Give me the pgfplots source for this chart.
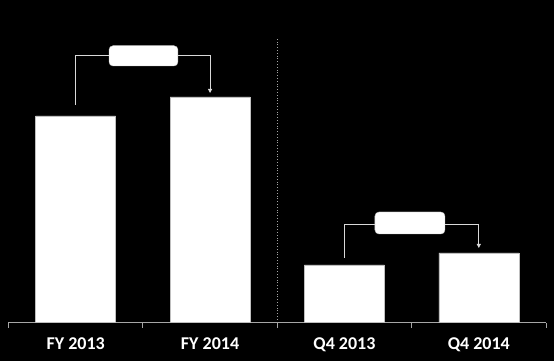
\documentclass[border=0pt]{standalone}
\usepackage{pgfplots}
\pgfplotsset{compat=1.18}
\usepackage{fontspec}
\setmainfont{Carlito}
\usetikzlibrary{arrows.meta}
\begin{document}
\begin{tikzpicture}
\fill[black] (-8.5pt,-38.5pt) rectangle (545.5pt,322.5pt);
\begin{axis}[
  at={(0,0)}, anchor=south west,
  scale only axis, width=537.5pt, height=322.5pt,
  xmin=-0.5, xmax=3.5, ymin=0, ymax=322.5,
  axis x line*=bottom, axis y line=none,
  axis line style={draw=gray!70, line width=0.8pt, -},
  xtick={0,1,2,3},
  xticklabels={FY 2013, FY 2014, Q4 2013, Q4 2014},
  major tick length=0pt,
  minor xtick={-0.5,0.5,1.5,2.5,3.5},
  minor tick length=5pt,
  tick align=outside,
  minor tick style={draw=gray!70, line width=0.8pt},
  xticklabel style={text=white, font=\fontsize{18}{20}\selectfont\bfseries, yshift=-12pt},
  clip=false,
  ybar, bar width=80pt,
]
\addplot[fill=white, draw=gray!50] coordinates {(0,206.5) (1,225.5) (2,57.5) (3,69.5)};
\draw[gray!70, line width=0.8pt, dotted] (axis cs:1.5,-5.5) -- (axis cs:1.5,284.5);
% left bracket
\draw[gray!30, line width=0.8pt] (axis cs:0,217.5) -- (axis cs:0,267.5) -- (axis cs:1,267.5);
\draw[gray!30, line width=0.8pt, -{Triangle[length=4pt,width=4pt]}] (axis cs:1,267.5) -- (axis cs:1,229.5);
\draw[gray!50, fill=white, rounded corners=4pt] (axis cs:0.248,256.5) rectangle (axis cs:0.761,276.8);
% right bracket
\draw[gray!30, line width=0.8pt] (axis cs:2,64.5) -- (axis cs:2,98.5) -- (axis cs:3,98.5);
\draw[gray!30, line width=0.8pt, -{Triangle[length=4pt,width=4pt]}] (axis cs:3,98.5) -- (axis cs:3,74.5);
\draw[gray!50, fill=white, rounded corners=4pt] (axis cs:2.227,88.5) rectangle (axis cs:2.748,110.5);
\end{axis}
\end{tikzpicture}
\end{document}
